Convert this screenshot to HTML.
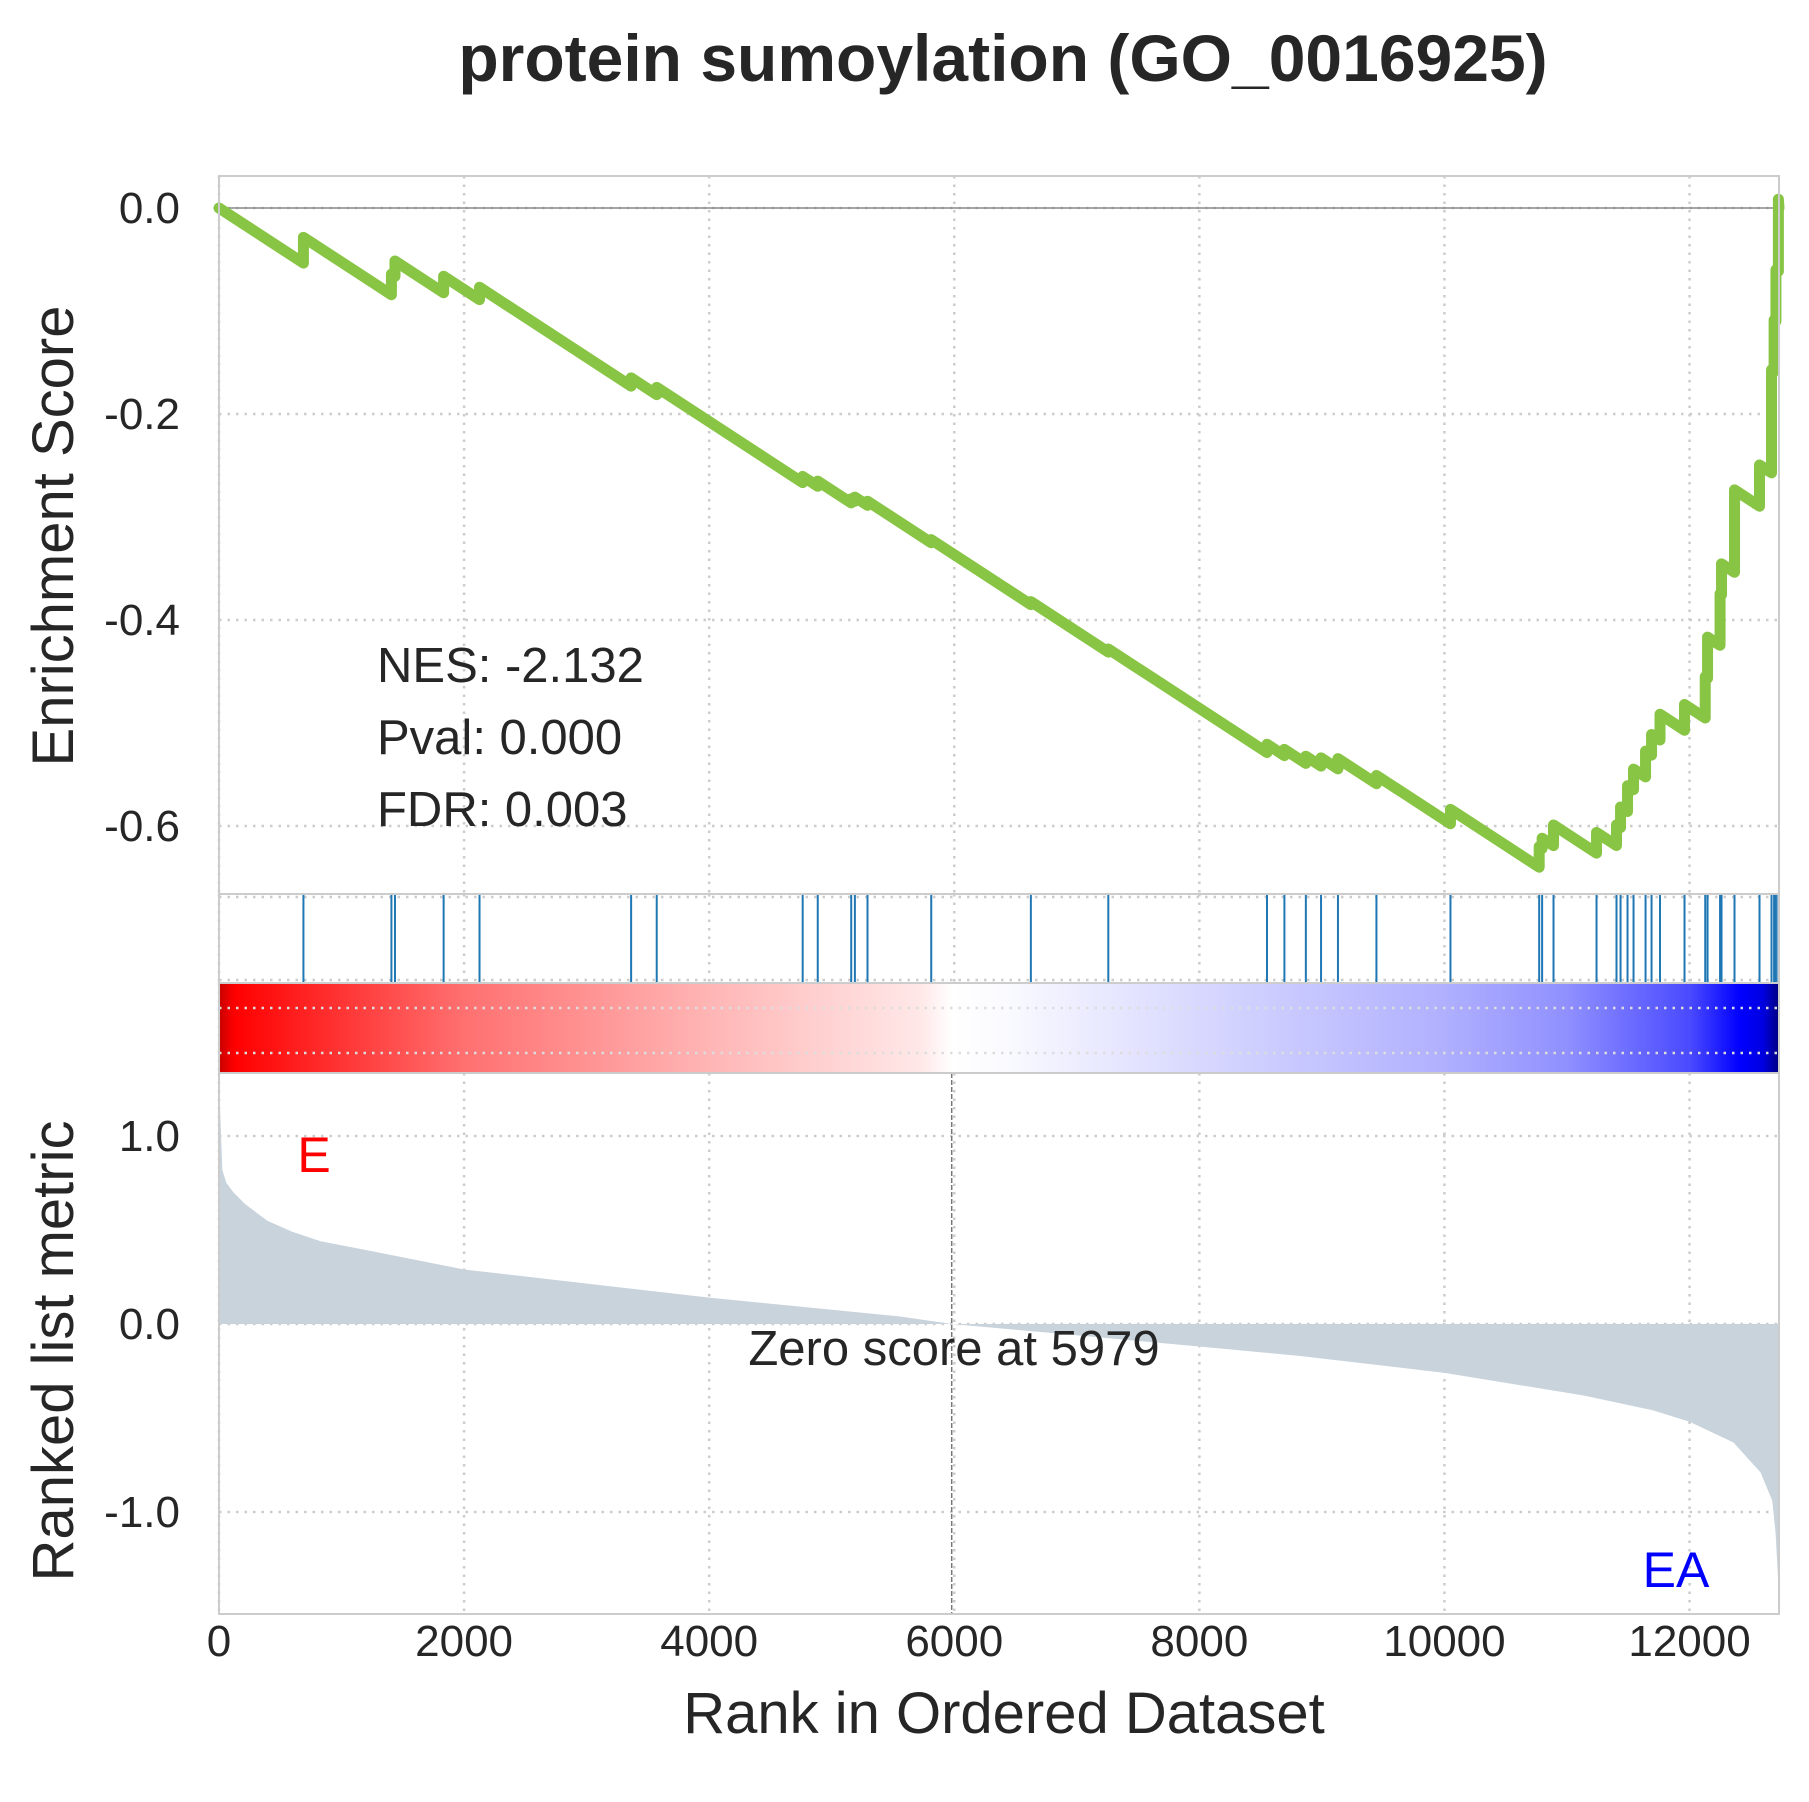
<!DOCTYPE html>
<html><head><meta charset="utf-8"><style>
body{margin:0;background:#fff}
svg text{font-family:"Liberation Sans",sans-serif;fill:#262626}
</style></head><body>
<svg id="chart" width="1809" height="1797" viewBox="0 0 1809 1797" xmlns="http://www.w3.org/2000/svg">
<defs>
<linearGradient id="cbar" x1="0" x2="1" y1="0" y2="0">
<stop offset="0" stop-color="#c80000"/><stop offset="0.01" stop-color="#ff0000"/>
<stop offset="0.157" stop-color="#ff7070"/><stop offset="0.314" stop-color="#ffb5b5"/>
<stop offset="0.45" stop-color="#ffe8e8"/><stop offset="0.47" stop-color="#ffffff"/>
<stop offset="0.50" stop-color="#fbfbff"/><stop offset="0.628" stop-color="#d8d8ff"/>
<stop offset="0.785" stop-color="#b0b0ff"/><stop offset="0.864" stop-color="#9090ff"/>
<stop offset="0.943" stop-color="#4a4aff"/><stop offset="0.975" stop-color="#0000ff"/>
<stop offset="0.99" stop-color="#0000e0"/><stop offset="1" stop-color="#000080"/>
</linearGradient>
</defs>
<g id="grid"></g>
<g id="marks"></g>
<g id="frames"></g>
<g id="labels"></g>
</svg>
<script>
const hitRanks=[689,1407,1436,1833,2126,3363,3572,4763,4886,5159,5189,5292,5812,6625,7257,8552,8694,8869,8993,9131,9445,10049,10773,10797,10890,11241,11404,11437,11494,11543,11641,11690,11759,11959,12128,12147,12249,12261,12367,12571,12669,12690,12705,12725];
const hitJumps=[0.025,0.02,0.015,0.016,0.012,0.008,0.007,0.006,0.005,0.004,0.004,0.004,0.003,0.003,0.003,0.008,0.006,0.007,0.008,0.01,0.008,0.014,0.02,0.01,0.02,0.02,0.02,0.02,0.025,0.02,0.025,0.02,0.025,0.025,0.04,0.04,0.05,0.03,0.08,0.04,0.10,0.05,0.05,0.07];
const missSlope=7.76e-5;
const metricRanks=[0,27,60,118,209,392,600,829,1303,2000,4000,5559,5979,7000,8000,8824,10000,11135,11706,12000,12359,12580,12675,12702,12727];
const metricValues=[1.3,0.82,0.75,0.70,0.64,0.55,0.49,0.44,0.38,0.29,0.14,0.04,0,-0.06,-0.12,-0.17,-0.26,-0.38,-0.46,-0.52,-0.63,-0.79,-0.94,-1.11,-1.41];
const xTicks=[0,2000,4000,6000,8000,10000,12000];
const esTicks=[0,-0.2,-0.4,-0.6];
const esTickLabels=["0.0","-0.2","-0.4","-0.6"];
const mTicks=[1,0,-1];
const mTickLabels=["1.0","0.0","-1.0"];
const zeroScore=5979, nRanks=12730;

const NS="http://www.w3.org/2000/svg";
const L=219,R=1779;
const X=r=>L+(R-L)*r/nRanks;
const Yes=v=>208+v*(-206/0.2);
const Ym=v=>1324-v*188;
function mk(tag,attrs,parent){const e=document.createElementNS(NS,tag);for(const k in attrs)e.setAttribute(k,attrs[k]);document.getElementById(parent).appendChild(e);return e;}
const P={es:[176,894],hits:[894,983],cbar:[983,1073],rk:[1073,1614]};
for(const t of xTicks){
 for(const k of ['es','hits','cbar','rk']){
  const g=mk('line',{x1:X(t),x2:X(t),y1:P[k][0],y2:P[k][1],stroke:'#cccccc','stroke-width':2.5,'stroke-dasharray':'2.5,6'},'grid');
  
  
 }
}
for(const t of esTicks){const g=mk('line',{x1:L,x2:R,y1:Yes(t),y2:Yes(t),stroke:'#cccccc','stroke-width':2.5,'stroke-dasharray':'2.5,6'},'grid');
 
 }
for(const t of mTicks){const g=mk('line',{x1:L,x2:R,y1:Ym(t),y2:Ym(t),stroke:'#cccccc','stroke-width':2.5,'stroke-dasharray':'2.5,6'},'grid');
 
 }
for(const y of [897,980]){const g=mk('line',{x1:L,x2:R,y1:y,y2:y,stroke:'#cccccc','stroke-width':2.5,'stroke-dasharray':'2.5,6'},'grid');
 
 }
const cb=mk('rect',{x:L,y:P.cbar[0],width:R-L,height:P.cbar[1]-P.cbar[0],fill:'url(#cbar)'},'marks');


for(const y of [1008,1053]){const g=mk('line',{x1:L,x2:R,y1:y,y2:y,stroke:'#dddddd','stroke-width':2.5,'stroke-dasharray':'2.5,6'},'marks');
 
 }
const z=mk('line',{x1:L,x2:R,y1:Yes(0),y2:Yes(0),stroke:'#888','stroke-width':1.5},'marks');


let d='M'+X(metricRanks[0])+','+Ym(0);
metricRanks.forEach((r,i)=>{d+=' L'+X(r)+','+Ym(metricValues[i]);});
d+=' L'+X(metricRanks[metricRanks.length-1])+','+Ym(0)+' Z';
const area=mk('path',{d:d,fill:'#c8d3dc'},'marks');


const zs=mk('line',{x1:X(zeroScore),x2:X(zeroScore),y1:P.cbar[1],y2:P.rk[1],stroke:'#777','stroke-width':1.5,'stroke-dasharray':'5,2'},'marks');


hitRanks.forEach(r=>{const h=mk('line',{x1:X(r),x2:X(r),y1:P.hits[0],y2:P.hits[1],stroke:'#1f77b4','stroke-width':2},'marks');
 
 });
let es=0,prev=0,pts=[[X(0),Yes(0)]];
hitRanks.forEach((r,i)=>{es-=missSlope*(r-prev);pts.push([X(r),Yes(es)]);es+=hitJumps[i];pts.push([X(r),Yes(es)]);prev=r;});
es-=missSlope*(nRanks-prev);pts.push([X(nRanks),Yes(Math.min(es,0))]);
const esl=mk('polyline',{points:pts.map(p=>p.join(',')).join(' '),fill:'none',stroke:'#88c544','stroke-width':11,'stroke-linejoin':'round','stroke-linecap':'round'},'marks');


for(const k in P){const f=mk('rect',{x:L,y:P[k][0],width:R-L,height:P[k][1]-P[k][0],fill:'none',stroke:'#cccccc','stroke-width':2},'frames');
 
 }
function txt(s,attrs,name,col){const t=mk('text',attrs,'labels');t.textContent=s;if(col)t.style.fill=col;
 
 return t;}
esTicks.forEach((t,i)=>txt(esTickLabels[i],{x:180,y:Yes(t)+15,'text-anchor':'end','font-size':44},'es-tick-label'));
mTicks.forEach((t,i)=>txt(mTickLabels[i],{x:180,y:Ym(t)+15,'text-anchor':'end','font-size':44},'metric-tick-label'));
xTicks.forEach(t=>txt(String(t),{x:X(t),y:1656,'text-anchor':'middle','font-size':44},'x-tick-label'));
txt('protein sumoylation (GO_0016925)',{x:1003,y:81,'text-anchor':'middle','font-size':66,'font-weight':'bold'},'chart-title');
txt('Rank in Ordered Dataset',{x:1004,y:1733,'text-anchor':'middle','font-size':58},'x-axis-title');
txt('Enrichment Score',{x:0,y:0,'text-anchor':'middle','font-size':58,transform:'translate(73,536) rotate(-90)'},'es-axis-title');
txt('Ranked list metric',{x:0,y:0,'text-anchor':'middle','font-size':58,transform:'translate(73,1351) rotate(-90)'},'metric-axis-title');
txt('NES: -2.132',{x:377,y:682,'font-size':49},'nes-annotation');
txt('Pval: 0.000',{x:377,y:754,'font-size':49},'pval-annotation');
txt('FDR: 0.003',{x:377,y:826,'font-size':49},'fdr-annotation');
txt('Zero score at 5979',{x:954,y:1365,'text-anchor':'middle','font-size':49},'zero-score-label');
txt('E',{x:314,y:1172,'text-anchor':'middle','font-size':50},'phenotype-pos-label','#ff0000');
txt('EA',{x:1676,y:1587,'text-anchor':'middle','font-size':50},'phenotype-neg-label','#0000ff');
</script>
</body></html>
